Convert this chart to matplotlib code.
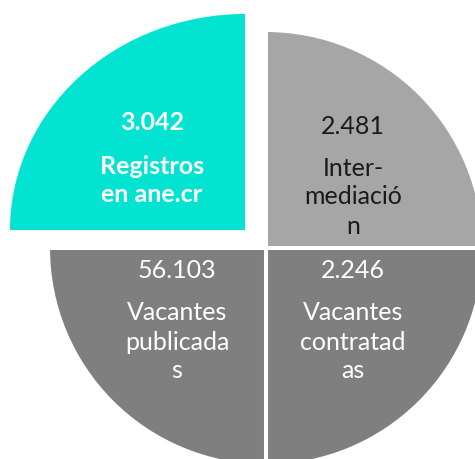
import matplotlib
matplotlib.use("Agg")
import matplotlib.pyplot as plt
from matplotlib.transforms import Affine2D

# data
values = ["3.042", "56.103", "2.246", "2.481"]
labels = ["Registros\nen ane.cr", "Vacantes\npublicada\ns", "Vacantes\ncontratad\nas", "Inter-\nmediació\nn"]
shares = [1, 1, 1, 1]  # four equal quadrants
colors = ["#02E4D1", "#7F7F7F", "#7F7F7F", "#A6A6A6"]
text_colors = ["white", "white", "white", "#1a1a1a"]
weights = ["bold", "normal", "normal", "normal"]

W, H = 475, 459
fig = plt.figure(figsize=(W / 100, H / 100), dpi=100)
ax = fig.add_axes([0, 0, 1, 1])
ax.set_xlim(0, W)
ax.set_ylim(0, H)
ax.set_aspect("equal")
ax.axis("off")

cx, cy = 266, H - 248
R = 218
wedges, _ = ax.pie(shares, colors=colors, startangle=90, counterclock=True,
                   center=(cx, cy), radius=R, frame=True,
                   wedgeprops=dict(edgecolor="white", linewidth=2.9))
ax.set_xlim(0, W)
ax.set_ylim(0, H)
ax.axis("off")

# exploded, slightly wider top-left slice
corner = (245, H - 230)
cyan = wedges[0]
cyan.set_edgecolor("none")
t = (Affine2D().translate(-cx, -cy).scale(235 / 216, 1.0)
     .translate(*corner)) + ax.transData
cyan.set_transform(t)
cyan.set_radius(216)

# text positions (image pixel coords)
num_pos = [(152, 122), (177, 270), (353, 271), (353, 127)]
lab_pos = [(152, 166), (177, 313), (353, 313), (353, 168)]
line_gap = 29
fs = 18
for i in range(4):
    ax.text(num_pos[i][0], H - num_pos[i][1], values[i], ha="center", va="center",
            color=text_colors[i], fontsize=fs, fontweight=weights[i], family="Lato")
    for j, line in enumerate(labels[i].split("\n")):
        ax.text(lab_pos[i][0], H - (lab_pos[i][1] + j * line_gap), line,
                ha="center", va="center", color=text_colors[i], fontsize=fs,
                fontweight=weights[i], family="Lato")

fig.savefig("out.png", dpi=100, facecolor="white")
